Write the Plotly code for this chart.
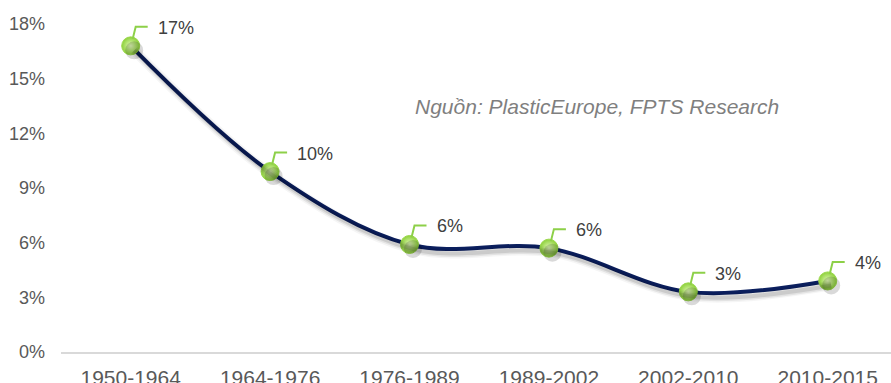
import plotly.graph_objects as go

# Growth rate of plastic production by period (%)
periods = ["1950-1964", "1964-1976", "1976-1989", "1989-2002", "2002-2010", "2010-2015"]
growth = [16.8, 9.9, 5.9, 5.7, 3.3, 3.9]
y_ticks = [0, 3, 6, 9, 12, 15, 18]
source_note = "Nguồn: PlasticEurope, FPTS Research"

W, H = 891, 383
M_L, M_R, M_T, M_B = 61, 0, 24, 31
X_RANGE = [-0.5, 5.454]
Y_RANGE = [0, 18]

# pixel offsets for the soft drop shadow
px_per_x = (W - M_L - M_R) / (X_RANGE[1] - X_RANGE[0])
px_per_y = (H - M_T - M_B) / (Y_RANGE[1] - Y_RANGE[0])
dx_sh, dy_sh = 3.5, 4.5
x_sh = [X_RANGE[0] - dx_sh / px_per_x, X_RANGE[1] - dx_sh / px_per_x]
y_sh = [Y_RANGE[0] + dy_sh / px_per_y, Y_RANGE[1] + dy_sh / px_per_y]

idx = list(range(len(periods)))
fig = go.Figure()

# shadow layer (x3/y3 with shifted ranges)
for w, a in [(10, 0.04), (7, 0.07), (4, 0.10)]:
    fig.add_trace(go.Scatter(
        x=idx, y=growth, mode="lines", xaxis="x3", yaxis="y3",
        line=dict(color=f"rgba(0,0,0,{a})", width=w, shape="spline"),
        hoverinfo="skip", showlegend=False))
fig.add_trace(go.Scatter(
    x=idx, y=growth, mode="markers", xaxis="x3", yaxis="y3",
    marker=dict(size=18, color="rgba(0,0,0,0.15)", line=dict(width=0)),
    hoverinfo="skip", showlegend=False))

# main line with spherical markers
fig.add_trace(go.Scatter(
    x=idx, y=growth, mode="lines", xaxis="x2", yaxis="y2",
    line=dict(color="#0b1f5e", width=4, shape="spline"),
    showlegend=False))
fig.add_trace(go.Scatter(
    x=idx, y=growth, mode="markers", xaxis="x2", yaxis="y2",
    marker=dict(size=18, color="#8dd03a",
                gradient=dict(type="radial", color="#e2fab8"),
                line=dict(width=1, color="#9ad84a")),
    showlegend=False))

# category axis carrying the labels
fig.add_trace(go.Scatter(x=idx, y=growth, mode="none", showlegend=False,
                         hoverinfo="skip"))

ax_hidden = dict(visible=False, fixedrange=True)
fig.update_layout(
    width=W, height=H,
    margin=dict(l=M_L, r=M_R, t=M_T, b=M_B, autoexpand=False),
    paper_bgcolor="white", plot_bgcolor="white",
    font=dict(family="Liberation Sans, Arial, sans-serif", color="#595959"),
    xaxis=dict(range=X_RANGE, tickmode="array", tickvals=idx, ticktext=periods,
               showgrid=False, zeroline=False, showline=True,
               linecolor="#d9d9d9", linewidth=2, ticks="",
               ticklabelstandoff=6, automargin=False,
               tickfont=dict(size=21, color="#595959")),
    yaxis=dict(range=Y_RANGE, tickmode="array", tickvals=y_ticks,
               ticktext=[f"{v}%" for v in y_ticks],
               showgrid=False, zeroline=False, showline=False, ticks="",
               ticklabelstandoff=15, automargin=False,
               tickfont=dict(size=18, color="#595959")),
    xaxis2=dict(ax_hidden, range=X_RANGE, overlaying="x"),
    yaxis2=dict(ax_hidden, range=Y_RANGE, overlaying="y"),
    xaxis3=dict(ax_hidden, range=x_sh, overlaying="x"),
    yaxis3=dict(ax_hidden, range=y_sh, overlaying="y"),
)

# value labels with bent green leader lines
for i, v in zip(idx, growth):
    fig.add_shape(type="path", xref="x2", yref="y2",
                  xsizemode="pixel", ysizemode="pixel",
                  xanchor=i, yanchor=v,
                  path="M 2 7 L 5 19 L 17 19",
                  line=dict(color="#8dd048", width=2))
    fig.add_annotation(x=i, y=v, xref="x2", yref="y2",
                       text=f"{v:.0f}%", showarrow=False,
                       xanchor="left", yanchor="middle",
                       xshift=25, yshift=18,
                       font=dict(size=18, color="#404040"))

fig.add_annotation(x=0.424, y=0.75, xref="paper", yref="paper",
                   xanchor="left", yanchor="middle",
                   text=f"<i>{source_note}</i>", showarrow=False,
                   font=dict(size=21, color="#7f7f7f"))

fig.write_html("out.html")
